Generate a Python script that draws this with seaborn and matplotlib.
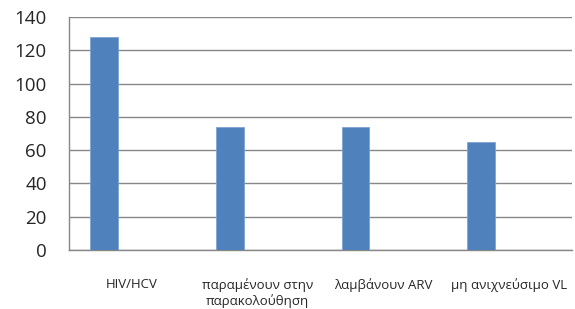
import numpy as np
import pandas as pd
import matplotlib
matplotlib.use("Agg")
import matplotlib.pyplot as plt
import seaborn as sns

# data
categories = ["HIV/HCV", "παραμένουν στην\nπαρακολούθηση", "λαμβάνουν ARV", "μη ανιχνεύσιμο VL"]
values = [128, 74, 74, 65]
series = ["Σειρά 1", "Σειρά 2", "Σειρά 3"]  # excel-style cluster, only first filled

sns.set_style("white")
plt.rcParams["font.family"] = ["Open Sans", "DejaVu Sans"]

df = pd.DataFrame({"cat": categories, "val": values, "series": series[0]})

fig = plt.figure(figsize=(5.75, 3.09), dpi=100)
ax = fig.add_axes([0.12, 0.191, 0.875, 0.754])

sns.barplot(
    data=df, x="cat", y="val", hue="series", hue_order=series, dodge=True,
    order=categories, palette=["#4F81BD"] * 3, width=0.667, gap=0, saturation=1,
    edgecolor="#7FA3D2", linewidth=0.6, legend=False, ax=ax, zorder=3,
)

ax.set_ylim(0, 140)
ax.set_xlim(-0.5, len(categories) - 0.5)
ax.set_yticks(np.arange(0, 141, 20))
ax.yaxis.grid(True, color="#878787", linewidth=1.0, zorder=0)
ax.set_axisbelow(True)
ax.set_xlabel("")
ax.set_ylabel("")

for side in ["top", "right"]:
    ax.spines[side].set_visible(False)
for side in ["left", "bottom"]:
    ax.spines[side].set_color("#878787")
    ax.spines[side].set_linewidth(1.0)

ax.tick_params(axis="y", length=5, color="#878787", width=1.0, pad=11, labelsize=13.5)
ax.tick_params(axis="x", length=0, pad=20, labelsize=9.5)
ax.set_xticks(np.arange(-0.5, len(categories), 1.0), minor=True)
ax.tick_params(axis="x", which="minor", length=5, color="#878787", width=1.0, direction="out")

fig.savefig("out.png", dpi=100)
